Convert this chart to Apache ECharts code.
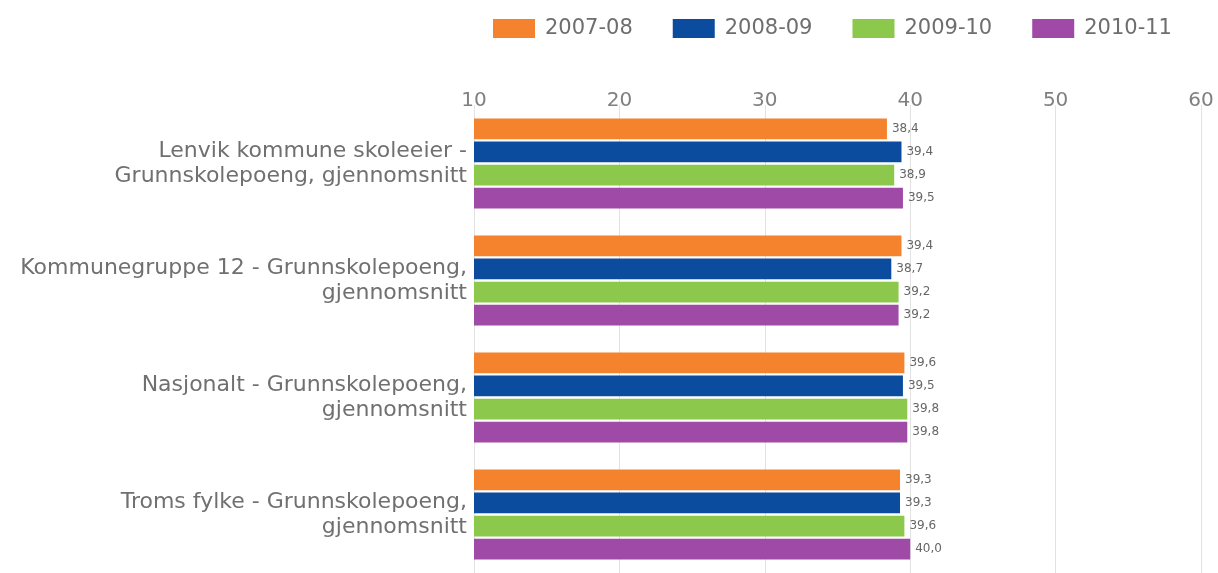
<!DOCTYPE html>
<html>
<head>
<meta charset="utf-8">
<script src="https://cdn.jsdelivr.net/npm/echarts@6/dist/echarts.min.js"></script>
<style>html,body{margin:0;padding:0;background:#fff;}#c{width:1218px;height:573px;}</style>
</head>
<body>
<div id="c"></div>
<script>
const categories = [
  "Lenvik kommune skoleeier -\nGrunnskolepoeng, gjennomsnitt",
  "Kommunegruppe 12 - Grunnskolepoeng,\ngjennomsnitt",
  "Nasjonalt - Grunnskolepoeng,\ngjennomsnitt",
  "Troms fylke - Grunnskolepoeng,\ngjennomsnitt"
];
const seriesNames = ["2007-08", "2008-09", "2009-10", "2010-11"];
const v2007 = [38.4, 39.4, 39.6, 39.3];
const v2008 = [39.4, 38.7, 39.5, 39.3];
const v2009 = [38.9, 39.2, 39.8, 39.6];
const v2010 = [39.5, 39.2, 39.8, 40.0];
const colors = ["#F5822D", "#0C4C9E", "#8CC84B", "#A04AA8"];

const values = [v2007, v2008, v2009, v2010];
const chart = echarts.init(document.getElementById('c'), null, {renderer: 'canvas'});
const font = "DejaVu Sans";
chart.setOption({
  animation: false,
  color: colors,
  legend: {
    data: seriesNames,
    top: 13,
    left: 488,
    itemWidth: 42,
    itemHeight: 19,
    itemGap: 40,
    icon: 'rect',
    textStyle: {fontSize: 21, color: '#6e6e6e', fontFamily: font, padding: [0, 0, 0, 5]}
  },
  grid: {left: 474, top: 105, width: 727, height: 486, containLabel: false},
  xAxis: {
    type: 'value',
    position: 'top',
    min: 10, max: 60, interval: 10,
    axisLine: {show: false},
    axisTick: {show: false},
    axisLabel: {fontSize: 20, color: '#808080', fontFamily: font, margin: -6},
    splitLine: {show: true, lineStyle: {color: '#e2e2e2', width: 1}}
  },
  yAxis: {
    type: 'category',
    data: categories,
    inverse: true,
    axisLine: {show: false},
    axisTick: {show: false},
    axisLabel: {fontSize: 22, color: '#707070', fontFamily: font, margin: 7, lineHeight: 25, align: 'right'}
  },
  series: values.map((vals, i) => ({
    name: seriesNames[i],
    type: 'bar',
    data: vals,
    barGap: '11%',
    barCategoryGap: '23%',
    label: {
      show: true,
      position: 'right',
      distance: 5,
      fontSize: 12,
      color: '#666',
      fontFamily: font,
      formatter: p => p.value.toFixed(1).replace('.', ',')
    }
  }))
});
</script>
</body>
</html>
